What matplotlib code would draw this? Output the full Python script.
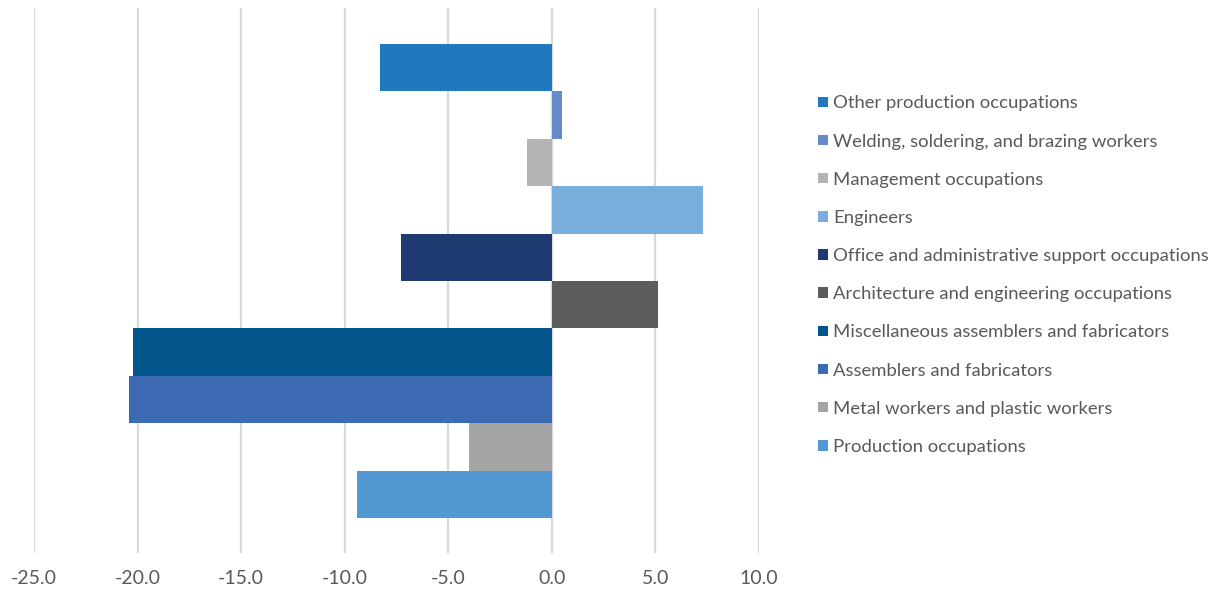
import matplotlib.pyplot as plt

# values (percent change)
labels = [
    'Other production occupations',
    'Welding, soldering, and brazing workers',
    'Management occupations',
    'Engineers',
    'Office and administrative support occupations',
    'Architecture and engineering occupations',
    'Miscellaneous assemblers and fabricators',
    'Assemblers and fabricators',
    'Metal workers and plastic workers',
    'Production occupations',
]
values = [-8.3, 0.5, -1.2, 7.3, -7.3, 5.1, -20.2, -20.4, -4.0, -9.4]
colors = ['#2178BE', '#658AC8', '#B4B4B4', '#79ADDB', '#1F3A70',
          '#5C5C5C', '#02568C', '#3D6BB3', '#A5A5A5', '#5298D2']
xticks = [-25, -20, -15, -10, -5, 0, 5, 10]

plt.rcParams['font.family'] = ['Lato', 'DejaVu Sans']
text_color = '#595959'

fig = plt.figure(figsize=(12.16, 5.96), dpi=100)
fig.patch.set_facecolor('white')
ax = fig.add_axes([34 / 1216, 43 / 596, 725 / 1216, 545 / 596])

bars = []
for i, (lab, v, c) in enumerate(zip(labels, values, colors)):
    b = ax.barh(i, v, height=1.0, color=c, label=lab, zorder=3)
    bars.append(b)

ax.set_ylim(9.5 + 0.74, -0.5 - 0.76)
ax.set_xlim(-25, 10)
ax.set_xticks(xticks)
ax.set_xticklabels([f'{t:.1f}' for t in xticks])
ax.set_yticks([])
ax.grid(axis='x', color='#D9D9D9', linewidth=1.6, zorder=0)
for s in ax.spines.values():
    s.set_visible(False)
ax.tick_params(axis='x', length=0, pad=12, labelsize=14, labelcolor=text_color)

leg = fig.legend(handles=bars, labels=labels, loc='upper left',
                 bbox_to_anchor=(811 / 1216, 1 - 88 / 596), frameon=False,
                 fontsize=13.3, handlelength=0.5, handleheight=0.5,
                 handletextpad=0.3, labelspacing=1.2, borderaxespad=0)
for t in leg.get_texts():
    t.set_color(text_color)

fig.savefig('out.png', dpi=100)
